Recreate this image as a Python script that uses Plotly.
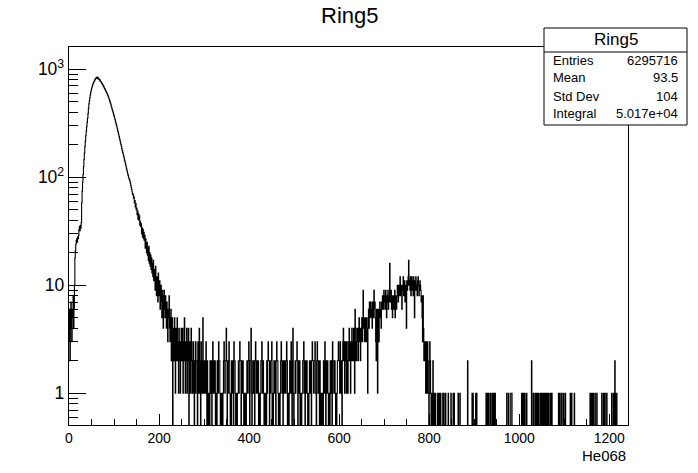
import plotly.graph_objects as go

# ---- data (1-unit bins) ----
BIN_LOW = 0
BIN_HIGH = 1240

PEAK_VALUES = [  # bins 0..249
    3, 6, 2, 5, 7, 4, 3, 6, 5, 8,
    4, 6, 10, 18, 21, 24, 26, 27, 25, 28,
    27, 29, 33, 35, 32, 36, 34, 38, 58, 74,
    90, 106, 125, 146, 168, 192, 216, 242, 268, 294,
    322, 352, 388, 436, 478, 512, 545, 578, 612, 641,
    666, 689, 714, 731, 750, 768, 779, 797, 806, 822,
    834, 826, 845, 837, 818, 833, 809, 798, 803, 781,
    770, 762, 746, 737, 724, 713, 698, 690, 671, 662,
    646, 636, 624, 613, 600, 586, 571, 558, 542, 527,
    512, 496, 481, 466, 449, 432, 420, 404, 393, 378,
    366, 352, 341, 327, 316, 304, 292, 281, 269, 259,
    249, 238, 228, 219, 209, 201, 193, 184, 177, 170,
    164, 157, 151, 144, 139, 133, 128, 122, 118, 113,
    108, 104, 100, 97, 95, 92, 88, 84, 80, 77,
    73, 69, 70, 64, 66, 58, 61, 53, 57, 50,
    52, 45, 49, 41, 46, 40, 44, 36, 39, 35,
    37, 30, 34, 28, 33, 27, 31, 26, 29, 22,
    27, 23, 20, 25, 19, 22, 17, 23, 16, 20,
    15, 19, 14, 18, 13, 16, 12, 17, 11, 14,
    12, 9, 15, 11, 8, 12, 10, 7, 13, 9,
    8, 11, 6, 9, 10, 7, 5, 9, 8, 4,
    7, 9, 6, 5, 8, 6, 4, 7, 5, 3,
    6, 5, 8, 4, 3, 5, 6, 2, 4, 5,
    0, 3, 4, 2, 5, 3, 1, 4, 2, 3,
    5, 2, 3, 1, 4, 2, 3, 1, 2, 4,
]

NOISE_START_VALUES = [  # bins 250..299
    3, 2, 4, 1, 3, 2, 5, 2, 1, 3,
    2, 4, 1, 3, 2, 4, 0, 2, 3, 1,
    2, 4, 3, 1, 2, 1, 3, 2, 0, 2,
    1, 3, 2, 2, 1, 0, 3, 1, 2, 4,
    1, 2, 0, 3, 1, 2, 1, 5, 2, 1,
]

NOISE_VALUES = [  # bins 300..599 (clusters of 1-2 counts separated by 0-1 runs)
    1, 2, 2, 1, 3, 2, 0, 2,
    1, 0, 1, 1, 0,
    2, 1, 2, 2, 0, 2, 3, 1, 2, 2, 1, 2,
    0, 1, 1, 0,
    2, 2, 1, 3, 2, 2, 1,
    0, 1, 0, 1, 1, 0, 1,
    2, 3, 2, 1, 2, 2, 4, 2, 0, 2, 1, 2, 3, 2,
    1, 0, 1, 0,
    2, 2, 1, 2, 0, 3, 2, 2, 1,
    0, 1, 1, 0, 1, 1,
    2, 1, 2, 3, 2, 2, 0, 2, 1, 2, 2,
    1, 0, 1, 0, 1, 1, 0, 1,
    2, 2, 1, 2, 3, 2, 0, 2, 2, 4,
    1, 0, 1,
    2, 1, 2, 2, 0, 2, 3, 2, 1, 2, 2, 1, 2,
    0, 1, 1, 0, 1,
    2, 2, 3, 1, 2, 2,
    1, 0, 1, 1, 0, 1, 0,
    2, 1, 2, 3, 2, 2, 0, 2, 1, 2, 2, 3,
    0, 1, 0, 1,
    2, 2, 1, 2, 0, 2, 3, 2, 2,
    1, 0, 1, 1, 0, 1,
    2, 3, 2, 1, 2, 0, 2, 2, 1, 2, 2, 1, 2, 3, 2,
    0, 1, 1, 0, 1,
    2, 2, 1, 3, 2, 0, 2, 4,
    1, 0, 1, 1,
    2, 1, 2, 2, 3, 2, 0, 2, 1, 2, 2,
    0, 1, 1, 0, 1, 1,
    2, 2, 3, 1, 2, 0, 2, 2, 1, 2,
    1, 0, 1, 0, 1,
    2, 2, 1, 2, 0, 2, 3, 2, 2, 1, 2, 2, 3,
    1, 1, 0,
    2, 3, 2, 1, 2, 2, 0, 2, 1,
    0, 1, 1, 0, 1, 0,
    2, 2, 1, 3, 2, 0, 2, 2, 1, 2,
    1, 0, 1, 1, 0,
    2, 1, 2, 2, 0, 3, 2, 2, 1, 2, 2, 1,
    0, 1, 0, 1,
    2, 2, 3, 2,
]

BUMP_VALUES = [  # bins 600..809
    2, 1, 3, 2, 1, 2, 0, 2, 3, 4,
    2, 3, 1, 2, 3, 2, 1, 3, 2, 1,
    2, 3, 4, 2, 3, 1, 2, 3, 4, 2,
    3, 2, 4, 3, 1, 6, 2, 3, 2, 4,
    3, 4, 2, 3, 5, 3, 4, 2, 3, 4,
    5, 3, 4, 9, 5, 4, 3, 5, 4, 3,
    5, 4, 3, 1, 5, 6, 4, 7, 5, 6,
    7, 5, 6, 4, 7, 6, 5, 9, 6, 7,
    5, 3, 2, 6, 4, 1, 6, 5, 3, 6,
    7, 5, 6, 4, 7, 6, 8, 7, 6, 9,
    7, 8, 6, 9, 8, 5, 7, 8, 9, 6,
    8, 7, 16, 8, 7, 9, 6, 8, 5, 7,
    8, 6, 7, 9, 5, 8, 7, 6, 8, 10,
    9, 7, 10, 8, 9, 12, 8, 10, 9, 6,
    10, 9, 12, 8, 9, 11, 7, 10, 9, 4,
    11, 9, 10, 12, 17, 10, 11, 9, 12, 8,
    10, 12, 9, 11, 8, 12, 10, 5, 11, 9,
    12, 10, 9, 8, 11, 12, 10, 8, 9, 11,
    10, 9, 7, 8, 5, 3, 8, 4, 2, 3,
    3, 2, 1, 3, 2, 1, 3, 2, 1, 0,
    1, 3, 2, 1, 0, 1, 1, 0, 2, 1,
]

TAIL_BINS = [812, 813, 818, 821, 824, 825, 830, 832, 836, 842, 848, 853, 855,
             864, 868, 885, 895, 897, 903, 905, 926, 929, 931, 935, 939, 941,
             942, 944, 946, 972, 976, 981, 982, 983, 1005, 1006, 1008, 1010,
             1012, 1016, 1027, 1031, 1035, 1038, 1040, 1042, 1046, 1049, 1050,
             1052, 1054, 1055, 1057, 1059, 1061, 1064, 1068, 1070, 1072, 1087,
             1090, 1094, 1098, 1102, 1113, 1116, 1122, 1157, 1158, 1160, 1162,
             1164, 1168, 1172, 1183, 1187, 1190, 1194, 1205, 1209, 1212, 1213,
             1216]
TAIL_COUNTS = [1, 1, 1, 1, 1, 1, 1, 1, 1, 1, 1, 1, 1,
               1, 1, 2, 1, 1, 1, 1, 1, 1, 1, 1, 1, 1,
               1, 1, 1, 1, 1, 1, 1, 1, 1, 1, 1, 1,
               1, 1, 2, 1, 1, 1, 1, 1, 1, 1, 1,
               1, 1, 1, 1, 1, 1, 1, 1, 1, 1, 1,
               1, 1, 1, 1, 1, 1, 1, 1, 1, 1, 1,
               1, 1, 1, 1, 1, 1, 1, 1, 1, 2, 1,
               1]

STATS_TITLE = "Ring5"
STATS_LABELS = ["Entries", "Mean", "Std Dev", "Integral"]
STATS_VALUES = ["6295716", "93.5", "104", "5.017e+04"]

X_TICKS = [0, 200, 400, 600, 800, 1000, 1200]

# ---- assemble histogram ----
nbins = BIN_HIGH - BIN_LOW
counts = PEAK_VALUES + NOISE_START_VALUES + NOISE_VALUES + BUMP_VALUES
counts = (counts + [0] * nbins)[:nbins]
for b, c in zip(TAIL_BINS, TAIL_COUNTS):
    counts[b - BIN_LOW] = c

edges = list(range(BIN_LOW, BIN_HIGH + 1))
# zero bins drop below the log frame (ROOT draws them to the bottom)
ydraw = [c if c > 0 else 1e-3 for c in counts]
ydraw = ydraw + [ydraw[-1]]

FONT = "Liberation Sans, Arial, Helvetica, sans-serif"

fig = go.Figure()
fig.add_trace(go.Scatter(
    x=edges, y=ydraw, mode="lines", line=dict(color="black", width=1.1, shape="hv"),
    hoverinfo="skip", showlegend=False,
))

L, R, T, B = 69, 70, 47, 48
W, H = 698, 473
pw, ph = W - L - R, H - T - B

def px2x(px):
    return (px - L) / pw

def px2y(py):
    return (H - B - py) / ph

fig.update_layout(
    width=W, height=H,
    margin=dict(l=L, r=R, t=T, b=B, pad=0),
    paper_bgcolor="white", plot_bgcolor="white",
    font=dict(family=FONT, color="black", size=14),
    showlegend=False,
    hovermode=False,
)
fig.update_xaxes(
    range=[0, 1241.5], tickvals=X_TICKS, ticks="inside", ticklen=11, tickwidth=1,
    tickcolor="black", showgrid=False, zeroline=False,
    showline=True, linecolor="black", linewidth=1, mirror=True,
    tickfont=dict(family=FONT, size=14, color="black"),
    minor=dict(ticks="inside", ticklen=6, dtick=50, tick0=0, tickcolor="black", showgrid=False),
)
fig.update_yaxes(
    type="log", range=[-0.2935, 3.206], dtick=1, exponentformat="power",
    ticks="inside", ticklen=17, tickwidth=1, tickcolor="black",
    showgrid=False, zeroline=False,
    showline=True, linecolor="black", linewidth=1, mirror=True,
    tickfont=dict(family=FONT, size=14, color="black"),
    ticklabelstandoff=1,
    minor=dict(ticks="inside", ticklen=9, dtick="D1", tickcolor="black", showgrid=False),
)

# main title
fig.add_annotation(text="Ring5", x=px2x(349), xref="paper", y=px2y(15), yref="paper",
                   showarrow=False, font=dict(family=FONT, size=22, color="black"),
                   xanchor="center", yanchor="middle")

# x axis title, right aligned at frame edge
fig.add_annotation(text="He068", x=1.0, xref="paper", y=px2y(455), yref="paper",
                   showarrow=False, font=dict(family=FONT, size=15, color="black"),
                   xanchor="right", yanchor="middle")

# stats box
bx0, bx1, by0, by1, bsep = 544, 687, 28, 125, 52
fig.add_shape(type="rect", xref="paper", yref="paper",
              x0=px2x(bx0), x1=px2x(bx1), y0=px2y(by1), y1=px2y(by0),
              line=dict(color="black", width=1), fillcolor="white", layer="above")
fig.add_shape(type="line", xref="paper", yref="paper",
              x0=px2x(bx0), x1=px2x(bx1), y0=px2y(bsep), y1=px2y(bsep),
              line=dict(color="black", width=1), layer="above")
fig.add_annotation(text=STATS_TITLE, x=px2x((bx0 + bx1) / 2), xref="paper",
                   y=px2y(40), yref="paper", showarrow=False,
                   font=dict(family=FONT, size=17, color="black"),
                   xanchor="center", yanchor="middle")
row_y = [60, 78, 96, 113.5]
for lab, val, yy in zip(STATS_LABELS, STATS_VALUES, row_y):
    fig.add_annotation(text=lab, x=px2x(551), xref="paper", y=px2y(yy), yref="paper",
                       showarrow=False, font=dict(family=FONT, size=13, color="black"),
                       xanchor="left", yanchor="middle")
    fig.add_annotation(text=val, x=px2x(680), xref="paper", y=px2y(yy), yref="paper",
                       showarrow=False, font=dict(family=FONT, size=13, color="black"),
                       xanchor="right", yanchor="middle")

fig.write_html(
    "out.html",
    config={"displayModeBar": False},
    post_script="document.body.style.margin='0';document.body.style.overflow='hidden';",
)
